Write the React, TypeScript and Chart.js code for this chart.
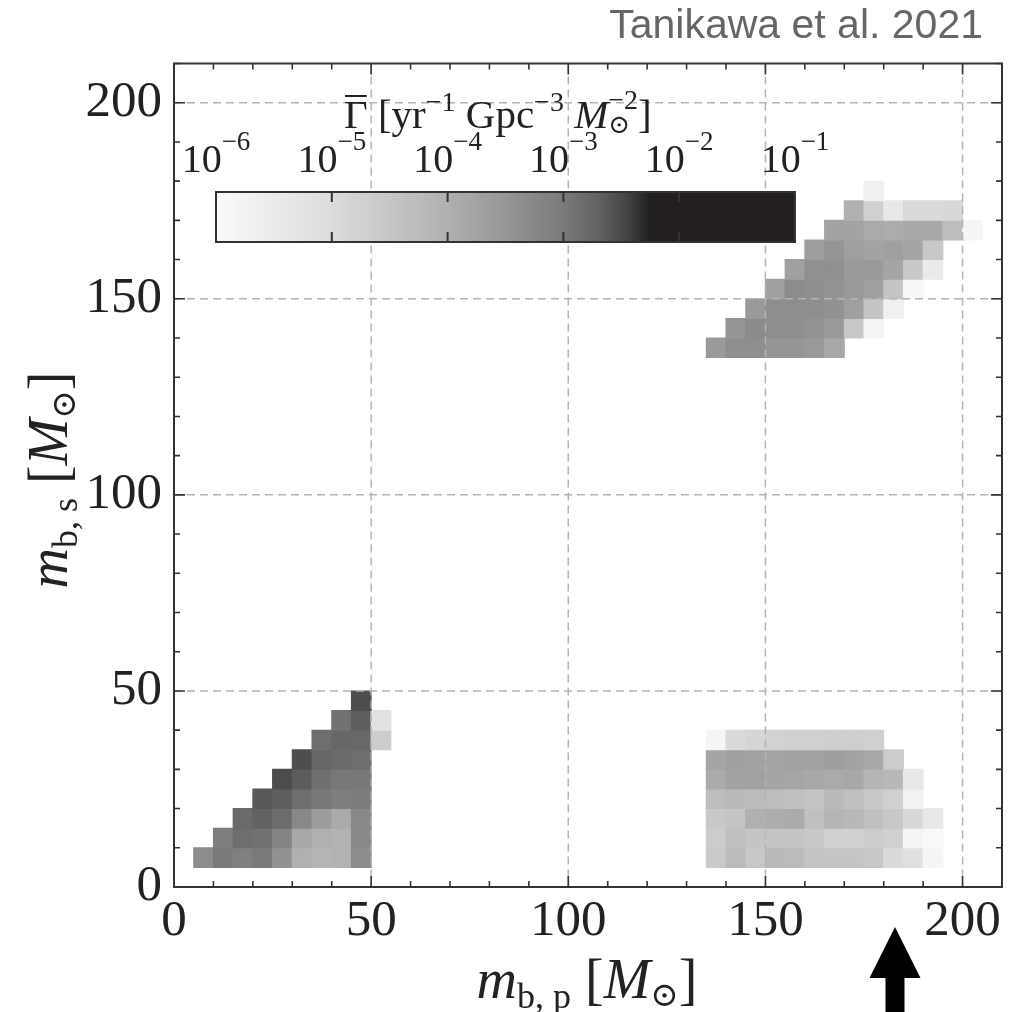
import React, { useEffect, useRef } from 'react';
import { Chart, registerables } from 'chart.js';

Chart.register(...registerables);

// ---------- data ----------
const BIN = 5; // bin width in solar masses
const AXIS_MIN = 0;
const AXIS_MAX = 210;
const xTickValues = [0, 50, 100, 150, 200];
const yTickValues = [0, 50, 100, 150, 200];
const gridValues = [50, 100, 150, 200];
const colorbarDecades = [-6, -5, -4, -3, -2, -1];
const colorbarMinLog = -6;
const colorbarMaxLog = -1;

// rows: [m_s bin start, first m_p bin start, log10(rate) per consecutive 5 Msun bin]
const lowMassRows: [number, number, number[]][] = [
  [5, 5, [-3.32, -3.0, -3.11, -3.0, -3.43, -4.0, -4.11, -4.05, -3.32]],
  [10, 10, [-3.07, -2.85, -2.9, -3.18, -3.85, -4.0, -4.05, -3.25]],
  [15, 15, [-2.8, -2.7, -2.82, -3.25, -3.62, -3.88, -3.25]],
  [20, 20, [-2.62, -2.67, -2.85, -2.98, -3.07, -3.04]],
  [25, 25, [-2.52, -2.65, -2.88, -2.98, -2.98]],
  [30, 30, [-2.53, -2.75, -2.8, -2.85]],
  [35, 35, [-2.85, -2.76, -2.78, -4.66]],
  [40, 40, [-2.9, -2.67, -5.2]],
  [45, 45, [-2.53]],
];

const highPrimaryRows: [number, number, number[]][] = [
  [5, 135, [-4.59, -4.27, -4.55, -4.23, -4.27, -4.48, -4.48, -4.48, -4.55, -4.95, -5.13, -5.83]],
  [10, 135, [-4.64, -4.36, -4.48, -4.48, -4.48, -4.55, -4.73, -4.73, -4.64, -4.73, -5.83, -5.95]],
  [15, 135, [-4.55, -4.48, -4.0, -3.94, -3.9, -4.36, -4.11, -4.18, -4.36, -4.55, -4.91, -5.4]],
  [20, 135, [-4.3, -4.23, -4.25, -4.3, -4.36, -4.48, -4.23, -4.36, -4.55, -4.73, -5.73]],
  [25, 135, [-3.9, -3.73, -3.73, -3.79, -3.81, -3.85, -3.88, -3.85, -4.11, -4.18, -5.4]],
  [30, 135, [-3.79, -3.69, -3.73, -3.79, -3.73, -3.75, -3.65, -3.75, -3.85, -4.64]],
  [35, 135, [-5.83, -4.95, -4.84, -4.77, -4.73, -4.73, -4.68, -4.68, -4.73]],
];

const bothHighRows: [number, number, number[]][] = [
  [135, 135, [-3.58, -3.36, -3.36, -3.48, -3.48, -3.56, -3.85]],
  [140, 140, [-3.48, -3.3, -3.36, -3.36, -3.45, -3.56, -4.55, -5.83]],
  [145, 145, [-3.58, -3.36, -3.36, -3.36, -3.43, -3.69, -4.48, -5.67]],
  [150, 150, [-3.69, -3.32, -3.36, -3.45, -3.56, -3.69, -4.48, -5.93]],
  [155, 155, [-3.69, -3.39, -3.39, -3.58, -3.58, -3.79, -4.55, -5.47]],
  [160, 160, [-3.65, -3.48, -3.67, -3.75, -3.69, -3.79, -4.55]],
  [165, 165, [-3.75, -3.75, -3.88, -3.92, -3.85, -3.85, -4.3, -5.83]],
  [170, 170, [-4.0, -4.73, -5.4, -4.95, -4.95, -4.91]],
  [175, 175, [-5.67]],
];

// colormap: log10(rate) -> gray level
const cmapStops: [number, number][] = [
  [-6, 250], [-5, 220], [-4, 176], [-3.5, 150], [-3, 122],
  [-2.7, 98], [-2.45, 68], [-2.33, 45], [-2.25, 35], [-1, 35],
];

// ---------- helpers ----------
function grayFor(v: number): number {
  const s = cmapStops;
  if (v <= s[0][0]) return s[0][1];
  for (let i = 1; i < s.length; i++) {
    if (v <= s[i][0]) {
      const [a, ga] = s[i - 1];
      const [b, gb] = s[i];
      return ga + ((gb - ga) * (v - a)) / (b - a);
    }
  }
  return s[s.length - 1][1];
}
function colorFor(v: number): string {
  const g = Math.round(grayFor(v));
  return g < 40 ? `rgb(${g},${g - 4},${g - 3})` : `rgb(${g},${g},${g})`;
}

const SERIF = '"Liberation Serif", "DejaVu Serif", "Times New Roman", serif';
function fnt(size: number, italic?: boolean) {
  return `${italic ? 'italic ' : ''}${size}px ${SERIF}`;
}
type Part = {
  t: string;
  size: number;
  italic?: boolean;
  dy?: number;
  over?: boolean;
  stack?: { t: string; size: number; dy: number };
};
function partWidth(ctx: CanvasRenderingContext2D, p: Part) {
  ctx.font = fnt(p.size, p.italic);
  let w = ctx.measureText(p.t).width;
  if (p.stack) {
    ctx.font = fnt(p.stack.size);
    w = Math.max(w, ctx.measureText(p.stack.t).width);
  }
  return w;
}
function drawRich(ctx: CanvasRenderingContext2D, parts: Part[], x: number, y: number, align: 'left' | 'center') {
  const total = parts.reduce((s, p) => s + partWidth(ctx, p), 0);
  let cx = align === 'center' ? x - total / 2 : x;
  ctx.textAlign = 'left';
  ctx.textBaseline = 'alphabetic';
  for (const p of parts) {
    const w = partWidth(ctx, p);
    ctx.font = fnt(p.size, p.italic);
    ctx.fillText(p.t, cx, y + (p.dy || 0));
    if (p.stack) {
      ctx.font = fnt(p.stack.size);
      ctx.fillText(p.stack.t, cx, y + p.stack.dy);
    }
    if (p.over) {
      ctx.save();
      ctx.lineWidth = 2;
      ctx.strokeStyle = ctx.fillStyle as string;
      const oy = y - p.size * 0.78;
      ctx.beginPath();
      ctx.moveTo(cx + 1, oy);
      ctx.lineTo(cx + w - 1, oy);
      ctx.stroke();
      ctx.restore();
    }
    cx += w;
  }
}

const cells = [...lowMassRows, ...highPrimaryRows, ...bothHighRows].flatMap(([y0, x0, vals]) =>
  vals.map((v, i) => ({ x: x0 + BIN * (i + 0.5), y: [y0, y0 + BIN], v }))
);

const decorPlugin = {
  id: 'decor',
  beforeDraw(chart: any) {
    const { ctx, width, height } = chart;
    ctx.save();
    ctx.fillStyle = '#ffffff';
    ctx.fillRect(0, 0, width, height);
    ctx.restore();
  },
  afterDatasetsDraw(chart: any) {
    const { ctx, chartArea: ca, scales } = chart;
    const xs = scales.x;
    const ys = scales.y;
    ctx.save();

    // dashed grid
    ctx.strokeStyle = '#b4b4b4';
    ctx.lineWidth = 1.5;
    ctx.setLineDash([8, 5]);
    for (const v of gridValues) {
      const px = xs.getPixelForValue(v);
      ctx.beginPath();
      ctx.moveTo(px, ca.top);
      ctx.lineTo(px, ca.bottom);
      ctx.stroke();
      const py = ys.getPixelForValue(v);
      ctx.beginPath();
      ctx.moveTo(ca.left, py);
      ctx.lineTo(ca.right, py);
      ctx.stroke();
    }
    ctx.setLineDash([]);

    // inward ticks on all sides
    ctx.strokeStyle = '#333';
    ctx.lineWidth = 1.6;
    for (let v = AXIS_MIN; v <= AXIS_MAX; v += 10) {
      const len = v % 50 === 0 ? 11 : 6;
      const px = xs.getPixelForValue(v);
      const py = ys.getPixelForValue(v);
      ctx.beginPath();
      ctx.moveTo(px, ca.bottom);
      ctx.lineTo(px, ca.bottom - len);
      ctx.moveTo(px, ca.top);
      ctx.lineTo(px, ca.top + len);
      ctx.moveTo(ca.left, py);
      ctx.lineTo(ca.left + len, py);
      ctx.moveTo(ca.right, py);
      ctx.lineTo(ca.right - len, py);
      ctx.stroke();
    }
    // frame
    ctx.lineWidth = 2;
    ctx.strokeRect(ca.left, ca.top, ca.right - ca.left, ca.bottom - ca.top);

    // colorbar
    const cbL = 216, cbR = 795, cbT = 192, cbB = 242;
    const grad = ctx.createLinearGradient(cbL, 0, cbR, 0);
    const nSteps = 100;
    for (let i = 0; i <= nSteps; i++) {
      const lv = colorbarMinLog + ((colorbarMaxLog - colorbarMinLog) * i) / nSteps;
      grad.addColorStop(i / nSteps, colorFor(lv));
    }
    ctx.fillStyle = grad;
    ctx.fillRect(cbL, cbT, cbR - cbL, cbB - cbT);
    const lp = (lv: number) => cbL + ((lv - colorbarMinLog) / (colorbarMaxLog - colorbarMinLog)) * (cbR - cbL);
    ctx.strokeStyle = '#333';
    ctx.lineWidth = 2;
    for (const d of colorbarDecades) {
      if (d === colorbarMinLog || d === colorbarMaxLog) continue;
      const px = lp(d);
      ctx.beginPath();
      ctx.moveTo(px, cbT);
      ctx.lineTo(px, cbT + 10);
      ctx.moveTo(px, cbB);
      ctx.lineTo(px, cbB - 10);
      ctx.stroke();
    }
    ctx.strokeRect(cbL, cbT, cbR - cbL, cbB - cbT);

    ctx.fillStyle = '#222';
    for (const d of colorbarDecades) {
      drawRich(ctx, [{ t: '10', size: 40 }, { t: '−' + Math.abs(d), size: 27, dy: -22 }], lp(d), 172, 'center');
    }
    drawRich(
      ctx,
      [
        { t: 'Γ', size: 41, over: true },
        { t: ' [yr', size: 41 },
        { t: '−1', size: 28, dy: -17 },
        { t: ' Gpc', size: 41 },
        { t: '−3', size: 28, dy: -17 },
        { t: ' ', size: 41 },
        { t: 'M', size: 41, italic: true },
        { t: '−2', size: 28, dy: -19, stack: { t: '⊙', size: 26, dy: 5 } },
        { t: ']', size: 41 },
      ],
      344,
      128,
      'left'
    );

    // axis titles
    drawRich(
      ctx,
      [
        { t: 'm', size: 56, italic: true },
        { t: 'b, p', size: 36, dy: 10 },
        { t: ' [', size: 56 },
        { t: 'M', size: 56, italic: true },
        { t: '⊙', size: 34, dy: 8 },
        { t: ']', size: 56 },
      ],
      587,
      998,
      'center'
    );
    ctx.save();
    ctx.translate(67, 480);
    ctx.rotate(-Math.PI / 2);
    drawRich(
      ctx,
      [
        { t: 'm', size: 56, italic: true },
        { t: 'b, s', size: 36, dy: 10 },
        { t: ' [', size: 56 },
        { t: 'M', size: 56, italic: true },
        { t: '⊙', size: 34, dy: 8 },
        { t: ']', size: 56 },
      ],
      0,
      0,
      'center'
    );
    ctx.restore();

    // source note
    ctx.fillStyle = '#666';
    ctx.font = '41px "Liberation Sans", Arial, sans-serif';
    ctx.textAlign = 'right';
    ctx.textBaseline = 'alphabetic';
    ctx.fillText('Tanikawa et al. 2021', 983, 38);

    // arrow
    ctx.fillStyle = '#000';
    ctx.beginPath();
    ctx.moveTo(895, 927);
    ctx.lineTo(920.5, 978);
    ctx.lineTo(904.5, 978);
    ctx.lineTo(904.5, 1012);
    ctx.lineTo(885.5, 1012);
    ctx.lineTo(885.5, 978);
    ctx.lineTo(869.5, 978);
    ctx.closePath();
    ctx.fill();

    ctx.restore();
  },
};

export default function App() {
  const canvasRef = useRef<HTMLCanvasElement | null>(null);
  useEffect(() => {
    const canvas = canvasRef.current;
    if (!canvas) return;
    const chart = new Chart(canvas, {
      type: 'bar',
      data: {
        datasets: [
          {
            data: cells as any,
            backgroundColor: cells.map((c) => colorFor(c.v)),
            borderWidth: 0,
            barPercentage: 1,
            categoryPercentage: 1,
            inflateAmount: 0.5,
          } as any,
        ],
      },
      options: {
        responsive: false,
        devicePixelRatio: 1,
        animation: false,
        events: [],
        layout: { padding: { top: 63.5, right: 15, left: 0, bottom: 0 } },
        plugins: { legend: { display: false }, tooltip: { enabled: false } },
        scales: {
          x: {
            type: 'linear',
            min: AXIS_MIN,
            max: AXIS_MAX,
            offset: false,
            grid: { display: false, drawTicks: false },
            border: { display: false },
            ticks: {
              font: { family: SERIF, size: 51 },
              color: '#222',
              padding: 4,
              maxRotation: 0,
              autoSkip: false,
            },
            afterBuildTicks: (s: any) => {
              s.ticks = xTickValues.map((v) => ({ value: v }));
            },
            afterFit: (s: any) => {
              s.height = 125;
            },
          },
          y: {
            type: 'linear',
            min: AXIS_MIN,
            max: AXIS_MAX,
            grid: { display: false, drawTicks: false },
            border: { display: false },
            ticks: {
              font: { family: SERIF, size: 51 },
              color: '#222',
              padding: 12,
              autoSkip: false,
            },
            afterBuildTicks: (s: any) => {
              s.ticks = yTickValues.map((v) => ({ value: v }));
            },
            afterFit: (s: any) => {
              s.width = 174;
            },
          },
        },
      } as any,
      plugins: [decorPlugin],
    });
    return () => chart.destroy();
  }, []);

  return (
    <div style={{ position: 'fixed', left: 0, top: 0, width: 1017, height: 1012, background: '#fff' }}>
      <canvas ref={canvasRef} width={1017} height={1012} style={{ display: 'block', width: 1017, height: 1012 }} />
    </div>
  );
}
